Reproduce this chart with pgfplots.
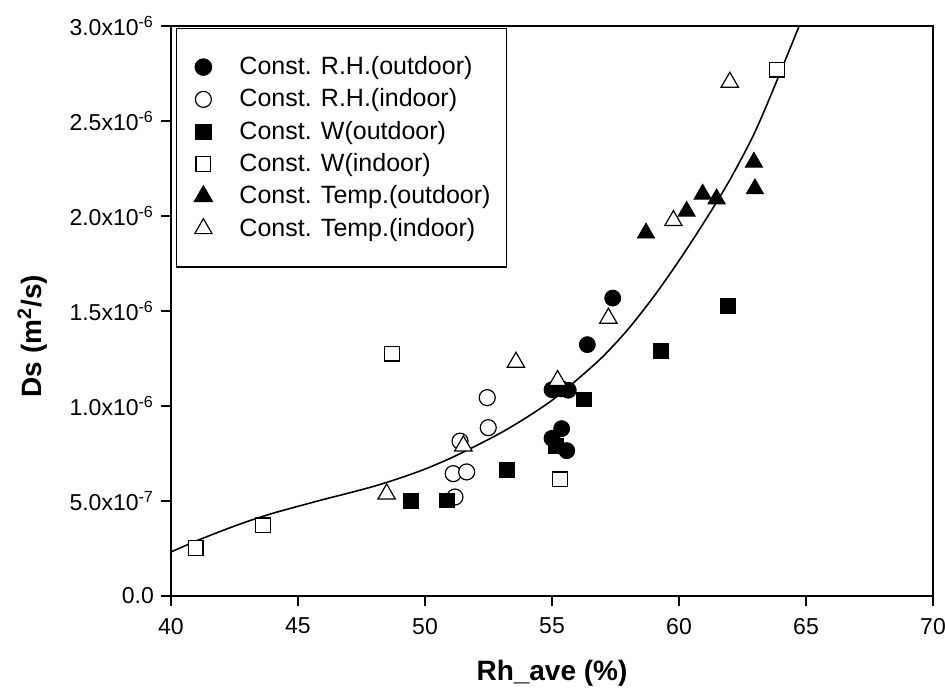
\documentclass[border=0pt]{standalone}
\usepackage{pgfplots}
\pgfplotsset{compat=1.18}
\usepackage{fontspec}
\setmainfont{Liberation Sans}
\begin{document}
\begin{tikzpicture}
\begin{axis}[
  scale only axis,
  width=381pt, height=285pt,
  xmin=40, xmax=70, ymin=0, ymax=3,
  xtick={40,45,...,70},
  ytick={0,0.5,1,1.5,2,2.5,3},
  yticklabels={0.0, 5.0x10\textsuperscript{-7}, 1.0x10\textsuperscript{-6}, 1.5x10\textsuperscript{-6}, 2.0x10\textsuperscript{-6}, 2.5x10\textsuperscript{-6}, 3.0x10\textsuperscript{-6}},
  /pgf/number format/assume math mode=true,
  tick align=outside, tick pos=left,
  major tick length=5pt,
  axis line style={line width=1pt},
  every tick/.style={line width=0.9pt, black},
  ticklabel style={font=\fontsize{11.5}{13}\selectfont},
  xticklabel style={yshift=-2.5pt},
  xlabel={\textbf{Rh\_ave (\%)}},
  ylabel={\textbf{Ds (m\textsuperscript{2}/s)}},
  label style={font=\fontsize{14}{16}\selectfont},
  xlabel style={at={(axis description cs:0.5,-0.135)}, anchor=center},
  ylabel style={at={(axis description cs:-0.182,0.456)}, anchor=center},
  legend style={at={(0.006,0.997)}, anchor=north west, draw=black, line width=0.8pt,
    font=\fontsize{12.5}{14}\selectfont, inner xsep=6pt, inner ysep=12pt, row sep=1.6pt,
    cells={anchor=west}},
  legend cell align=left,
  legend image code/.code={\path (0cm,0cm) (0.8cm,0cm); \draw[#1] plot coordinates {(0.25cm,0cm)};},
  clip=true,
]
\addplot[black, line width=0.8pt, smooth, no marks, forget plot] coordinates {
(40,0.232) (41,0.29) (42,0.343) (43,0.392) (44,0.435) (45,0.472) (46,0.508) (47,0.542)
(48,0.578) (49,0.62) (50,0.668) (51,0.725) (52,0.79) (53,0.86) (54,0.94) (55,1.03)
(56,1.14) (57,1.26) (58,1.405) (59,1.575) (60,1.765) (61,1.97) (62,2.19) (63,2.445)
(64,2.76) (65,3.09)};
\addplot[only marks, mark=*, mark size=4pt, black, mark options={fill=black}] coordinates {
(57.39,1.568) (56.39,1.323) (55.0,1.086) (55.38,1.09) (55.64,1.083)
(55.38,0.881) (55.0,0.83) (55.58,0.765)};
\addlegendentry{Const. R.H.(outdoor)}
\addplot[only marks, mark=*, mark size=4pt, black, mark options={fill=white, line width=0.6pt}] coordinates {
(52.45,1.044) (52.49,0.886) (51.38,0.815) (51.11,0.644) (51.64,0.653) (51.18,0.521)};
\addlegendentry{Const. R.H.(indoor)}
\addplot[only marks, mark=square*, mark size=3.7pt, black, mark options={fill=black}] coordinates {
(49.45,0.50) (50.85,0.503) (53.22,0.665) (56.27,1.035) (59.29,1.29) (61.94,1.525) (55.15,0.79)};
\addlegendentry{Const. W(outdoor)}
\addplot[only marks, mark=square*, mark size=3.7pt, black, mark options={fill=white, line width=0.6pt}] coordinates {
(40.97,0.253) (43.63,0.372) (48.69,1.276) (55.31,0.614) (63.85,2.771)};
\addlegendentry{Const. W(indoor)}
\addplot[only marks, mark=triangle*, mark size=5pt, black, mark options={fill=black}] coordinates {
(58.7,1.91) (60.3,2.025) (60.93,2.115) (61.48,2.09) (62.95,2.283) (62.99,2.143)};
\addlegendentry{Const. Temp.(outdoor)}
\addplot[only marks, mark=triangle*, mark size=5pt, black, mark options={fill=white, line width=0.6pt}] coordinates {
(62.0,2.704) (59.78,1.976) (57.22,1.462) (53.58,1.23) (55.22,1.134) (51.51,0.79) (48.49,0.537)};
\addlegendentry{Const. Temp.(indoor)}
\end{axis}
\pgfresetboundingbox
\path ([xshift=-85.5pt,yshift=-50pt]current axis.south west) rectangle ([xshift=6pt,yshift=13pt]current axis.north east);
\end{tikzpicture}
\end{document}
